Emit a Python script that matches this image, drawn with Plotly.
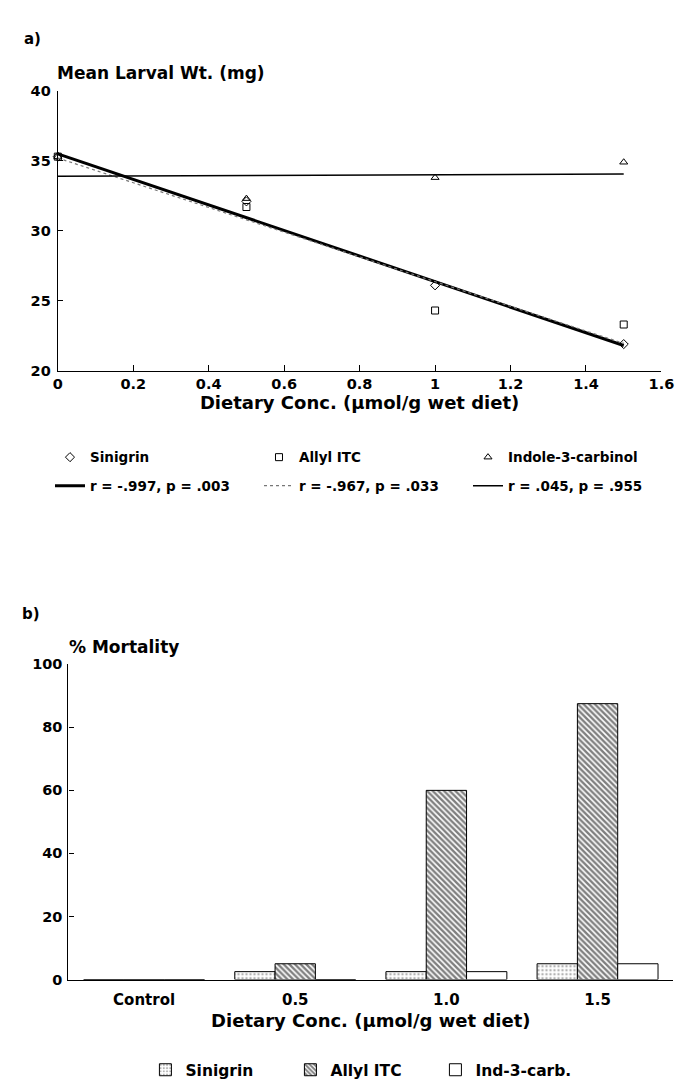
import plotly.graph_objects as go

W, H = 683, 1081

# ---------------- data: panel a ----------------
conc = [0, 0.5, 1.0, 1.5]
sinigrin_wt = [35.3, 32.1, 26.1, 21.9]
allyl_wt = [35.3, 31.7, 24.3, 23.3]
indole_wt = [35.3, 32.3, 33.8, 34.9]

fit_x = [0, 1.5]
sinigrin_fit = [35.5, 21.8]
allyl_fit = [35.2, 21.95]
indole_fit = [33.9, 34.05]

series_names = ["Sinigrin", "Allyl ITC", "Indole-3-carbinol"]
fit_labels = ["r = -.997, p = .003", "r = -.967, p = .033", "r = .045, p = .955"]

x_ticks_a = [0, 0.2, 0.4, 0.6, 0.8, 1.0, 1.2, 1.4, 1.6]
x_ticklabels_a = ["0", "0.2", "0.4", "0.6", "0.8", "1", "1.2", "1.4", "1.6"]
y_ticks_a = [20, 25, 30, 35, 40]

# ---------------- data: panel b ----------------
dose_cats = ["Control", "0.5", "1.0", "1.5"]
mort_sinigrin = [0, 2.5, 2.5, 5]
mort_allyl = [0, 5, 60, 87.5]
mort_ind = [0, 0, 2.5, 5]
bar_names = ["Sinigrin", "Allyl ITC", "Ind-3-carb."]
y_ticks_b = [0, 20, 40, 60, 80, 100]

FONT = "DejaVu Sans"


def px_x(p):
    return p / W


def px_y(p):
    return 1 - p / H


def bfont(size):
    return dict(family=FONT, size=size, color="black", weight="bold")


fig = go.Figure()

# markers (legend 1)
symbols = ["diamond-open", "square-open", "triangle-up-open"]
for name, ys, sym in zip(series_names, [sinigrin_wt, allyl_wt, indole_wt], symbols):
    fig.add_trace(go.Scatter(
        x=conc, y=ys, mode="markers", name=name,
        marker=dict(symbol=sym, size=7, color="black", line=dict(width=1, color="black")),
        xaxis="x", yaxis="y", legend="legend", cliponaxis=False,
    ))

# fit lines (legend 2)
line_styles = [dict(color="black", width=3),
               dict(color="#777777", width=1.2, dash="dot"),
               dict(color="black", width=1.5)]
for lab, ys, ls in zip(fit_labels, [sinigrin_fit, allyl_fit, indole_fit], line_styles):
    fig.add_trace(go.Scatter(
        x=fit_x, y=ys, mode="lines", name=lab, line=ls,
        xaxis="x", yaxis="y", legend="legend2", cliponaxis=False,
    ))

# bars (legend 3)
patterns = [
    dict(shape=".", fgcolor="#666666", bgcolor="white", size=4, solidity=0.3),
    dict(shape="\\", fgcolor="black", bgcolor="white", size=4, solidity=0.6),
    dict(shape="", fgcolor="black", bgcolor="white"),
]
for name, vals, pat in zip(bar_names, [mort_sinigrin, mort_allyl, mort_ind], patterns):
    fig.add_trace(go.Bar(
        x=dose_cats, y=vals, name=name,
        marker=dict(color="white", pattern=pat, line=dict(color="black", width=1)),
        xaxis="x2", yaxis="y2", legend="legend3",
    ))

fig.update_layout(
    width=W, height=H,
    margin=dict(l=0, r=0, t=0, b=0),
    paper_bgcolor="white", plot_bgcolor="white",
    font=dict(family=FONT, color="black"),
    showlegend=True,
    barmode="group", bargap=0.2, bargroupgap=0,
    xaxis=dict(
        domain=[px_x(46), px_x(666)], anchor="y", range=[0, 1.6],
        tickvals=x_ticks_a, ticktext=x_ticklabels_a,
        showline=True, linecolor="black", linewidth=1.3,
        ticks="inside", ticklen=6, tickcolor="black",
        showgrid=False, zeroline=False, tickfont=bfont(14.5),
        title=dict(text="Dietary Conc. (µmol/g wet diet)", font=bfont(18), standoff=3),
    ),
    yaxis=dict(
        domain=[px_y(360), px_y(76)], anchor="x", range=[20, 40],
        tickvals=y_ticks_a,
        showline=True, linecolor="black", linewidth=1.3,
        ticks="inside", ticklen=5, tickcolor="black",
        showgrid=False, zeroline=False, tickfont=bfont(14.5),
        ticklabelstandoff=3,
    ),
    xaxis2=dict(
        domain=[px_x(57), px_x(678)], anchor="y2", type="category",
        range=[-0.5, 3.5],
        showline=True, linecolor="black", linewidth=1.3,
        ticks="", showgrid=False, zeroline=False, tickfont=bfont(15),
        ticklabelstandoff=6,
        title=dict(text="Dietary Conc. (µmol/g wet diet)", font=bfont(18), standoff=6),
    ),
    yaxis2=dict(
        domain=[px_y(978), px_y(658)], anchor="x2", range=[0, 100],
        tickvals=y_ticks_b,
        showline=True, linecolor="black", linewidth=1.3,
        ticks="inside", ticklen=5, tickcolor="black",
        showgrid=False, zeroline=False, tickfont=bfont(14.5),
        ticklabelstandoff=2,
    ),
    legend=dict(
        orientation="h", x=px_x(38), y=px_y(448), xanchor="left", yanchor="middle",
        entrywidth=164, entrywidthmode="pixels", font=bfont(13.5),
        bgcolor="rgba(0,0,0,0)", itemwidth=30,
    ),
    legend2=dict(
        orientation="h", x=px_x(38), y=px_y(477), xanchor="left", yanchor="middle",
        entrywidth=164, entrywidthmode="pixels", font=bfont(13.5),
        bgcolor="rgba(0,0,0,0)", itemwidth=30,
    ),
    legend3=dict(
        orientation="h", x=px_x(136), y=px_y(1070), xanchor="left", yanchor="middle",
        entrywidth=100, entrywidthmode="pixels", font=bfont(15.5),
        bgcolor="rgba(0,0,0,0)", itemwidth=30,
    ),
    annotations=[
        dict(text="a)", x=px_x(9), y=px_y(23), xref="paper", yref="paper",
             xanchor="left", yanchor="middle", showarrow=False, font=bfont(15)),
        dict(text="Mean Larval Wt. (mg)", x=px_x(43), y=px_y(58), xref="paper", yref="paper",
             xanchor="left", yanchor="middle", showarrow=False, font=bfont(17)),
        dict(text="b)", x=px_x(7), y=px_y(607), xref="paper", yref="paper",
             xanchor="left", yanchor="middle", showarrow=False, font=bfont(15)),
        dict(text="% Mortality", x=px_x(55), y=px_y(640), xref="paper", yref="paper",
             xanchor="left", yanchor="middle", showarrow=False, font=bfont(17)),
    ],
)

fig.write_html("out.html")
